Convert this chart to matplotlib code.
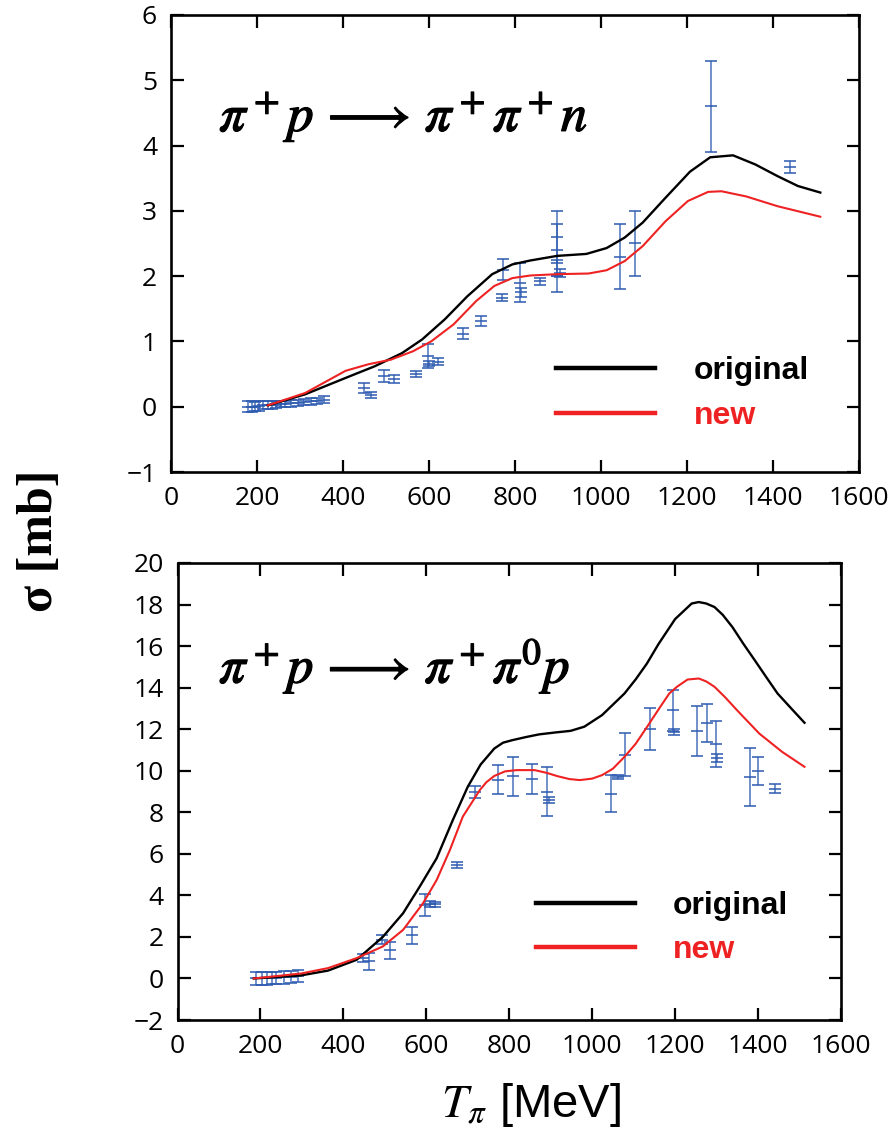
import numpy as np
import matplotlib
matplotlib.use("Agg")
import matplotlib.pyplot as plt
import matplotlib.patheffects as pe

plt.rcParams['font.family'] = ['Open Sans', 'DejaVu Sans']
plt.rcParams['mathtext.fontset'] = 'stix'

# pi+ p -> pi+ pi+ n : model curves
t_orig_nn = [225, 312, 417, 474, 537, 584, 637, 689, 747, 794, 836, 898, 966, 1013,
             1055, 1097, 1150, 1207, 1254, 1307, 1359, 1411, 1458, 1510]
sig_orig_nn = [0.02, 0.19, 0.47, 0.62, 0.82, 1.03, 1.34, 1.69, 2.03, 2.18, 2.24, 2.31, 2.34, 2.43,
               2.59, 2.82, 3.20, 3.60, 3.82, 3.85, 3.71, 3.53, 3.38, 3.28]
t_new_nn = [225, 312, 406, 459, 511, 563, 605, 657, 710, 752, 794, 836, 898, 971,
            1013, 1055, 1097, 1150, 1202, 1249, 1280, 1338, 1411, 1510]
sig_new_nn = [0.02, 0.21, 0.55, 0.65, 0.72, 0.85, 1.00, 1.26, 1.62, 1.85, 1.97, 2.01, 2.03, 2.04,
              2.09, 2.23, 2.46, 2.84, 3.15, 3.29, 3.30, 3.22, 3.07, 2.91]

# pi+ p -> pi+ pi+ n : measurements
t_data_nn = [180, 188, 195, 205, 215, 225, 235, 245, 255, 265, 280, 295, 310, 325, 340, 355,
             448, 466, 495, 518, 570, 597, 600, 622, 680, 720, 772, 770, 812, 815, 857,
             898, 898, 905, 898, 1045, 1080, 1255, 1440]
sig_data_nn = [0.0, 0.0, 0.0, 0.01, 0.02, 0.02, 0.03, 0.03, 0.04, 0.04, 0.05, 0.06, 0.07, 0.08, 0.09, 0.11,
               0.29, 0.18, 0.47, 0.42, 0.50, 0.78, 0.66, 0.69, 1.12, 1.31, 2.10, 1.67, 1.90, 1.75, 1.92,
               2.60, 2.40, 2.05, 2.00, 2.30, 2.50, 4.60, 3.67]
err_data_nn = [0.08, 0.08, 0.07, 0.07, 0.06, 0.06, 0.06, 0.05, 0.05, 0.05, 0.05, 0.05, 0.05, 0.05, 0.05, 0.05,
               0.08, 0.04, 0.09, 0.06, 0.04, 0.18, 0.04, 0.05, 0.08, 0.08, 0.16, 0.05, 0.30, 0.07, 0.05,
               0.40, 0.40, 0.06, 0.25, 0.50, 0.50, 0.70, 0.09]

# pi+ p -> pi+ pi0 p : model curves
t_orig_0p = [184, 298, 363, 432, 495, 544, 584, 625, 664, 700, 731, 764, 785, 807, 840, 872, 910,
             948, 981, 1024, 1078, 1105, 1132, 1160, 1200, 1240, 1257, 1275, 1295, 1315, 1338,
             1365, 1392, 1420, 1447, 1480, 1512]
sig_orig_0p = [0.0, 0.15, 0.38, 0.90, 2.00, 3.14, 4.42, 5.79, 7.63, 9.23, 10.30, 11.07, 11.35, 11.47,
               11.62, 11.75, 11.84, 11.92, 12.12, 12.68, 13.72, 14.40, 15.16, 16.10, 17.30, 18.05,
               18.12, 18.05, 17.88, 17.50, 16.92, 16.10, 15.32, 14.50, 13.72, 13.00, 12.31]
t_new_0p = [184, 298, 363, 432, 495, 544, 592, 625, 657, 688, 729, 745, 764, 790, 818, 861, 890,
            916, 945, 970, 1000, 1024, 1050, 1078, 1105, 1132, 1160, 1186, 1205, 1230, 1257, 1275,
            1295, 1320, 1349, 1403, 1458, 1512]
sig_new_0p = [0.0, 0.24, 0.50, 0.98, 1.54, 2.34, 3.62, 4.74, 6.19, 7.79, 9.07, 9.45, 9.75, 9.97,
              10.03, 10.03, 9.90, 9.74, 9.60, 9.55, 9.62, 9.79, 10.10, 10.67, 11.30, 12.10, 12.95,
              13.72, 14.05, 14.39, 14.44, 14.30, 14.04, 13.55, 12.92, 11.79, 10.91, 10.19]

# pi+ p -> pi+ pi0 p : measurements
t_data_0p = [189, 203, 216, 227, 237, 257, 273, 290,
             448, 462, 494, 512, 566, 596, 608, 620, 673, 718, 773, 809, 856, 890, 895,
             1045, 1062, 1080, 1140, 1195, 1197, 1252, 1278, 1298, 1300, 1380, 1400, 1440]
sig_data_0p = [0.0, 0.0, 0.0, 0.02, 0.03, 0.05, 0.08, 0.12,
               1.00, 0.82, 1.86, 1.35, 2.07, 3.55, 3.60, 3.58, 5.46, 8.99, 9.57, 9.73, 9.60, 9.00, 8.60,
               8.90, 9.70, 10.77, 12.00, 12.90, 11.85, 11.90, 12.30, 11.30, 10.60, 9.70, 10.00, 9.14]
err_data_0p = [0.3, 0.3, 0.3, 0.3, 0.3, 0.3, 0.3, 0.3,
               0.20, 0.40, 0.22, 0.40, 0.40, 0.52, 0.15, 0.12, 0.14, 0.28, 0.70, 0.95, 0.72, 1.20, 0.15,
               0.90, 0.10, 1.04, 1.00, 1.00, 0.15, 1.20, 0.90, 1.10, 0.20, 1.40, 0.68, 0.22]

x_ticks = [0, 200, 400, 600, 800, 1000, 1200, 1400, 1600]

BLUE = '#2d5bb0'
RED = '#ee2222'


def draw_panel(ax, t_orig, s_orig, t_new, s_new, t_d, s_d, e_d, ylim, yticks, title, title_pos, leg_pos):
    ax.errorbar(t_d, s_d, yerr=e_d, fmt='_', ms=9, mew=1.3, color=BLUE, ecolor=BLUE,
                elinewidth=1.1, capsize=4.5, capthick=1.1, alpha=0.85, zorder=2)
    ax.plot(t_orig, s_orig, color='black', lw=1.7, label='original', zorder=3)
    ax.plot(t_new, s_new, color=RED, lw=1.5, label='new', zorder=3)

    ax.set_xlim(0, 1600)
    ax.set_ylim(*ylim)
    ax.set_xticks(x_ticks)
    ax.set_yticks(yticks)
    ax.tick_params(direction='in', length=9, width=1.6, labelsize=19, pad=10,
                   top=True, right=True)
    for sp in ax.spines.values():
        sp.set_linewidth(1.9)

    txt = ax.text(title_pos[0], title_pos[1], title, transform=ax.transAxes,
                  fontsize=38, va='baseline', ha='left')
    txt.set_path_effects([pe.withStroke(linewidth=0.9, foreground='black')])

    leg = ax.legend(loc='lower left', bbox_to_anchor=leg_pos, frameon=False,
                    handlelength=3.1, handletextpad=1.2, labelspacing=0.45,
                    borderpad=0, borderaxespad=0,
                    prop={'family': 'Liberation Sans', 'weight': 'bold', 'size': 23})
    for line in leg.get_lines():
        line.set_linewidth(3.2)
    leg.get_texts()[1].set_color(RED)


fig = plt.figure(figsize=(8.92, 11.33), dpi=100)
ax1 = fig.add_axes([0.1917, 0.5834, 0.7713, 0.4034])
ax2 = fig.add_axes([0.1990, 0.0997, 0.7438, 0.4034])

draw_panel(ax1, t_orig_nn, sig_orig_nn, t_new_nn, sig_new_nn,
           t_data_nn, sig_data_nn, err_data_nn,
           (-1, 6), range(-1, 7), r'$\pi^+p\,\longrightarrow\,\pi^+\pi^+n$',
           (0.07, 0.746), (0.56, 0.09))
draw_panel(ax2, t_orig_0p, sig_orig_0p, t_new_0p, sig_new_0p,
           t_data_0p, sig_data_0p, err_data_0p,
           (-2, 20), range(-2, 21, 2), r'$\pi^+p\,\longrightarrow\,\pi^+\pi^0p$',
           (0.0625, 0.738), (0.54, 0.12))

fig.text(0.045, 0.523, 'σ [mb]', rotation=90, ha='center', va='center',
         fontsize=36, fontweight='bold', family='Liberation Serif')
fig.text(0.595, 0.0247, r'$T_\pi$ [MeV]', ha='center', va='center',
         fontsize=34, family='Liberation Sans')

fig.savefig('out.png', dpi=100)
